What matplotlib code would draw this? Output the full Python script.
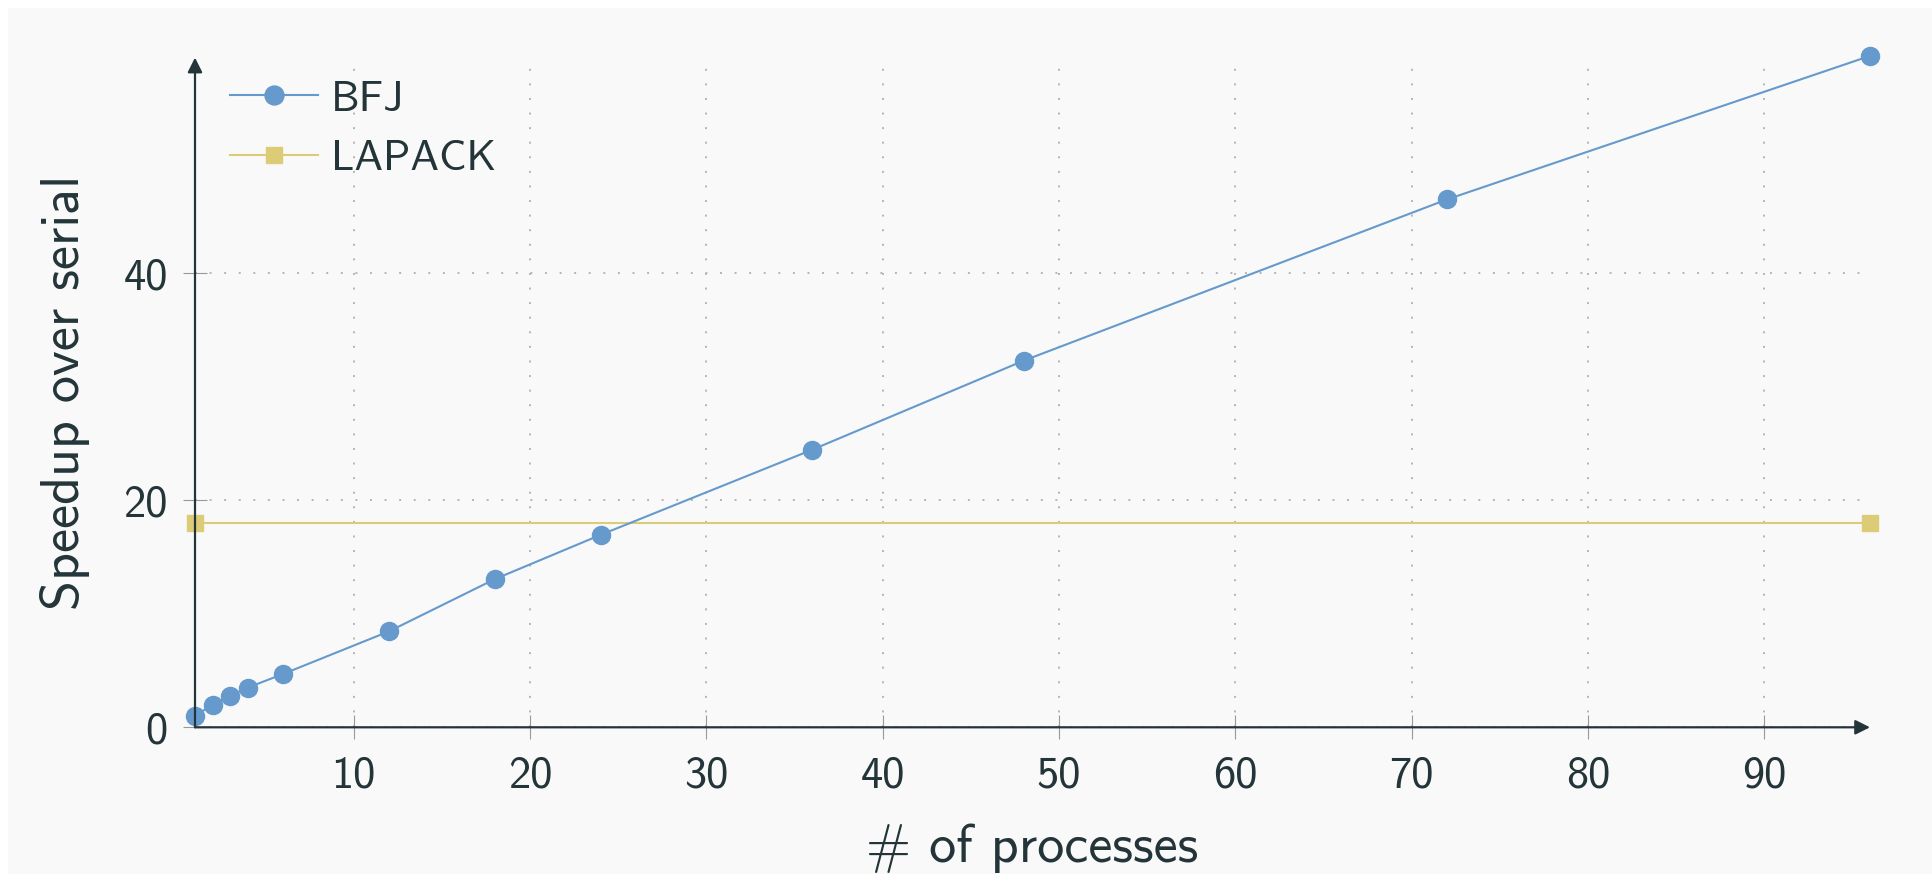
import matplotlib
matplotlib.use('Agg')
import matplotlib.pyplot as plt
from matplotlib.patches import Rectangle

# speedup measurements
procs = [1, 2, 3, 4, 6, 12, 18, 24, 36, 48, 72, 96]
bfj = [1.0, 2.0, 2.75, 3.5, 4.7, 8.45, 13.05, 16.95, 24.45, 32.3, 46.5, 59.15]
lapack_x = [1, 96]
lapack = [18.0, 18.0]

xticks = [10, 20, 30, 40, 50, 60, 70, 80, 90]
yticks = [0, 20, 40]

ink = '#233539'
blue = '#6699cc'
sand = '#ddcc77'

plt.rcParams['font.family'] = ['cmss10', 'DejaVu Sans']

fig = plt.figure(figsize=(19.32, 8.74), dpi=100)
fig.patch.set_facecolor('white')
fig.patches.append(Rectangle((8/1932, 0), 1 - 8/1932, 1 - 8/874,
                             transform=fig.transFigure, facecolor='#f9f9f9',
                             edgecolor='none', zorder=-10))

ax = fig.add_axes([195/1932, (874-727.3)/874, (1870-195)/1932, (727.3-57.6)/874])
ax.set_facecolor('none')
ax.set_xlim(1, 96)
ax.set_ylim(0, 59)

ax.plot(procs, bfj, '-o', color=blue, lw=1.5, ms=13, mec=blue, mfc=blue,
        clip_on=False, zorder=4, label='BFJ')
ax.plot(lapack_x, lapack, '-s', color=sand, lw=1.5, ms=11.5, mec=sand, mfc=sand,
        clip_on=False, zorder=3, label='LAPACK')

ax.set_xticks(xticks)
ax.set_yticks(yticks)
ax.tick_params(direction='inout', length=17, width=0.8, color='#999999',
               labelcolor=ink, labelsize=32)
ax.tick_params(axis='x', pad=12)
ax.tick_params(axis='y', pad=11)
ax.grid(True, color='#b5b5b5', lw=1.4, ls=(0, (1, 6.5)))

for s in ['top', 'right', 'left', 'bottom']:
    ax.spines[s].set_visible(False)

# axis lines with arrow heads
ax.annotate('', xy=(1.0, 0), xytext=(0, 0), xycoords='axes fraction',
            arrowprops=dict(arrowstyle='-|>', color=ink, lw=1.6,
                            mutation_scale=22, shrinkA=0, shrinkB=0), zorder=5)
ax.annotate('', xy=(0, 1.0), xytext=(0, 0), xycoords='axes fraction',
            arrowprops=dict(arrowstyle='-|>', color=ink, lw=1.6,
                            mutation_scale=22, shrinkA=0, shrinkB=0), zorder=5)

ax.set_xlabel('# of processes', fontsize=39, color=ink, labelpad=19)
ax.set_ylabel('Speedup over serial', fontsize=39, color=ink, labelpad=24)

ax.legend(loc='upper left', bbox_to_anchor=(0.021, 0.966), frameon=False,
          fontsize=31, handlelength=2.05, handletextpad=0.3, labelspacing=0.5,
          borderpad=0, borderaxespad=0, labelcolor=ink, markerscale=1.05)

fig.savefig('out.png', dpi=100, facecolor=fig.get_facecolor())
